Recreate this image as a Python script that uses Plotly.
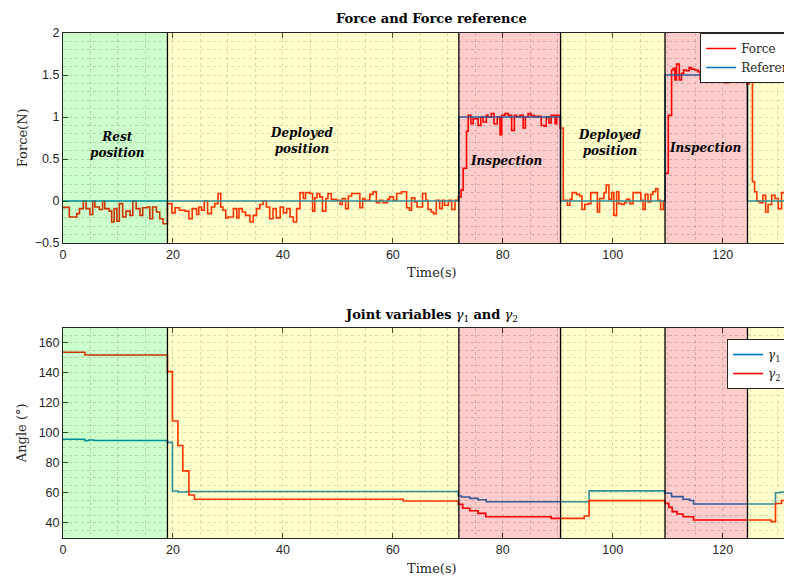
import plotly.graph_objects as go

# ---------------- data ----------------
t_force = [0, 1.15, 2.5, 3.0, 3.7, 4.2, 4.9, 5.4, 5.8, 6.6, 7.2, 7.6, 8.4, 8.85, 9.3, 9.8, 10.25, 10.85, 11.45, 12.2,
           12.7, 13.3, 14.0, 14.5, 15.3, 15.8, 16.3, 17.0, 17.6, 18.2,
           19.0, 19.8, 20.4, 21.2, 22.2, 22.9, 23.5, 24.3, 24.7, 25.2, 25.7, 26.3, 27.0, 27.6, 28.2, 28.7, 29.1, 29.6,
           30.1, 31.0, 31.6, 32.0, 32.6, 33.2, 34.0, 34.6, 35.2, 35.8, 36.4, 37.0, 37.6, 38.2, 38.8, 39.5, 40.1, 40.7,
           41.3, 41.9, 42.5, 43.1, 43.7, 44.1,
           44.9, 45.4, 45.8, 46.2, 46.7, 47.2, 47.8, 48.2, 48.8, 49.7, 50.4, 50.8, 51.4, 51.9, 52.5, 54.0, 54.5, 54.9,
           55.8, 56.4, 57.0, 57.6, 58.2, 59.0, 59.4, 60.1, 60.7, 61.6, 62.5, 63.0, 63.4, 64.0, 64.4, 65.4, 66.0, 66.4,
           67.0, 67.4, 67.9, 68.5, 69.0, 69.4, 70.1, 70.7, 71.3,
           71.9, 72.4, 72.8, 73.4, 73.7, 74.2, 74.6, 75.5, 76.0, 76.4, 77.0, 77.3, 77.9, 78.4, 79.0, 79.5, 79.8, 80.4,
           81.0, 81.6, 82.1, 82.5, 83.1, 83.7, 84.1, 84.6, 85.1, 85.7, 86.1, 87.0, 87.5, 87.9, 88.4, 88.8, 89.5, 89.8,
           90.4,
           91.0, 91.75, 92.2, 92.6, 93.4, 94.0, 94.4, 94.9, 95.5, 96.0, 96.6, 97.2, 97.6, 98.4, 98.8, 99.3, 99.8, 100.2,
           100.7, 101.1, 101.6, 102.1, 102.5, 103.1, 103.7, 104.3, 105.1, 105.5, 105.9, 106.4, 106.9, 107.3, 107.8,
           108.2, 108.7,
           109.2, 109.5, 110.1, 110.7, 111.0, 111.3, 111.6, 112.1, 112.5, 112.9, 113.4, 113.9, 114.3, 114.9, 115.5,
           115.9, 116.3, 116.7, 117.2, 117.6, 118.25, 118.85, 119.3, 119.8, 120.4, 121.0, 121.6, 122.2, 122.6, 123.1,
           123.6, 124.0, 124.4, 124.8, 125.4, 125.8, 126.2, 126.7, 127.3, 127.8, 128.25, 128.9, 129.5, 130.1, 130.7,
           131.5, 132.3, 134.0]
force = [-0.075, -0.19, -0.15, -0.09, 0.0, -0.09, -0.16, 0.0, -0.07, -0.10, 0.0, -0.09, -0.12, -0.25, -0.09, -0.24,
         -0.03, -0.19, -0.12, -0.17, 0.0, -0.09, -0.17, -0.08, -0.07, -0.21, -0.07, -0.13, -0.21, -0.27,
         -0.03, -0.14, -0.08, -0.11, -0.12, -0.21, -0.09, -0.16, -0.07, -0.11, 0.0, -0.15, -0.07, -0.03, 0.09, -0.07,
         -0.11, -0.2, -0.19, -0.09, -0.2, -0.09, -0.13, -0.17, -0.25, -0.17, -0.09, -0.04, 0.0, -0.07, -0.21, -0.09,
         -0.2, -0.07, -0.14, -0.09, -0.19, -0.25, -0.09, 0.1, 0.03, 0.1,
         0.09, -0.12, 0.04, 0.09, 0.05, -0.12, 0.03, 0.09, 0.02, 0.01, -0.04, 0.03, -0.09, 0.06, 0.09, -0.08, 0.03,
         0.01, 0.08, 0.11, -0.02, 0.01, -0.02, 0.02, 0.05, 0.01, 0.09, 0.11, -0.08, -0.11, 0.04, -0.01, -0.07, 0.09,
         0.01, -0.1, -0.13, -0.15, 0.01, -0.09, 0.01, -0.05, 0.01, -0.1, 0.01,
         0.05, 0.13, 0.39, 0.83, 1.02, 0.92, 0.98, 0.9, 1.0, 0.94, 1.02, 1.0, 1.04, 0.92, 1.0, 0.79, 1.02, 1.04,
         1.02, 0.84, 1.02, 1.0, 1.02, 0.87, 1.0, 1.04, 1.02, 1.0, 1.01, 0.9, 0.89, 1.0, 0.93, 1.02, 0.92, 1.02,
         0.87,
         0.01, -0.05, 0.02, 0.1, 0.08, 0.06, -0.1, -0.04, -0.03, 0.1, 0.1, -0.13, 0.03, 0.1, 0.19, 0.02, 0.1, -0.17,
         0.11, -0.03, -0.04, -0.02, 0.02, -0.03, 0.1, 0.1, 0.01, -0.1, 0.08, -0.01, 0.08, 0.11, 0.15, 0.01, -0.1,
         0.0, 0.33, 1.02, 1.56, 1.58, 1.44, 1.63, 1.44, 1.52, 1.56, 1.55, 1.59, 1.57, 1.56, 1.54, 1.45, 1.53, 1.44,
         1.58, 1.47, 1.46, 1.45, 1.47, 1.43, 1.41, 1.43, 1.42, 1.5, 1.53, 1.52, 1.47, 1.44, 1.39, 1.52, 0.23, 0.11,
         0.0, -0.02, 0.07, -0.13, -0.04, 0.07, 0.03, -0.09, 0.1, -0.02, -0.05, -0.05]

t_ref = [0, 72, 90.5, 109.5, 124.5, 134]
reference = [0, 1, 0, 1.5, 0, 0]

t_g1 = [0, 4.0, 4.6, 5.6, 19.0, 19.9, 20.9, 22.5, 71.9, 72.5, 74.0, 75.5, 77.0, 95.7, 109.5, 110.7, 112.8, 114.0,
        114.7, 129.6, 130.5, 134.0]
gamma1 = [95.8, 94.8, 95.3, 95.0, 93.7, 61.3, 60.7, 61.0, 58.0, 57.3, 56.4, 55.5, 54.2, 61.4, 59.8, 57.6, 55.8,
          55.0, 52.7, 60.2, 60.7, 60.7]

t_g2 = [0, 4.0, 19.0, 19.9, 20.9, 21.8, 22.9, 23.9, 61.9, 71.9, 72.7, 74.0, 75.5, 76.9, 88.8, 94.8, 95.7, 109.5,
        110.2, 110.8, 111.7, 112.8, 114.7, 128.8, 129.6, 130.7, 134.0]
gamma2 = [153.8, 152.0, 140.9, 108.0, 91.6, 74.7, 58.7, 55.8, 54.7, 52.4, 49.8, 48.2, 46.4, 44.2, 43.1, 44.7, 54.9,
          53.1, 50.4, 47.6, 46.0, 44.2, 42.0, 40.9, 53.0, 55.0, 55.0]

phase_bounds = [0, 19, 72, 90.5, 109.5, 124.5, 134]
phase_colors = ["rgba(0,255,0,0.2)", "rgba(255,255,0,0.2)", "rgba(255,0,0,0.2)",
                "rgba(255,255,0,0.2)", "rgba(255,0,0,0.2)", "rgba(255,255,0,0.2)"]
phase_labels = ["Rest<br>position", "Deployed<br>position", "Inspection", "Deployed<br>position", "Inspection"]
label_x = [10, 43.5, 80.5, 99.5, 116.7]
label_y = [0.67, 0.71, 0.48, 0.69, 0.63]

# ---------------- figure ----------------
SERIF = "DejaVu Serif"
SANS = "Liberation Sans"
DARK = "#262626"
GRID = "rgba(110,110,110,0.3)"

fig = go.Figure()
fig.add_trace(go.Scatter(x=t_force, y=force, mode="lines", line=dict(color="#ff0000", width=1.6, shape="hv"),
                         name="Force", xaxis="x", yaxis="y", legend="legend"))
fig.add_trace(go.Scatter(x=t_ref, y=reference, mode="lines", line=dict(color="#0072bd", width=1.6, shape="hv"),
                         name="Reference", xaxis="x", yaxis="y", legend="legend"))
fig.add_trace(go.Scatter(x=t_g1, y=gamma1, mode="lines", line=dict(color="#0072bd", width=1.6, shape="hv"),
                         name="<i>γ</i><sub>1</sub>", xaxis="x2", yaxis="y2", legend="legend2"))
fig.add_trace(go.Scatter(x=t_g2, y=gamma2, mode="lines", line=dict(color="#ff0000", width=1.6, shape="hv"),
                         name="<i>γ</i><sub>2</sub>", xaxis="x2", yaxis="y2", legend="legend2"))

shapes = []
for xr, yr in (("x", "y domain"), ("x2", "y2 domain")):
    for i in range(len(phase_bounds) - 1):
        shapes.append(dict(type="rect", xref=xr, yref=yr, x0=phase_bounds[i], x1=phase_bounds[i + 1],
                           y0=0, y1=1, fillcolor=phase_colors[i], line=dict(width=0), layer="above"))
    for b in phase_bounds[1:-1]:
        shapes.append(dict(type="line", xref=xr, yref=yr, x0=b, x1=b, y0=0, y1=1,
                           line=dict(color="black", width=1.3), layer="above"))

annotations = []
for lx, ly, txt in zip(label_x, label_y, phase_labels):
    annotations.append(dict(x=lx, y=ly, xref="x", yref="y", text="<b><i>" + txt + "</i></b>", showarrow=False,
                            font=dict(family=SERIF, size=12, color="black"), align="center"))

annotations += [
    dict(x=0.505, y=1.028, xref="paper", yref="paper", text="<b>Force and Force reference</b>", showarrow=False,
         font=dict(family=SERIF, size=13, color="black"), yanchor="middle"),
    dict(x=0.505, y=0.44, xref="paper", yref="paper",
         text="<b>Joint variables</b> <i>γ</i><sub>1</sub> <b>and</b> <i>γ</i><sub>2</sub>", showarrow=False,
         font=dict(family=SERIF, size=13, color="black"), yanchor="middle"),
    dict(x=0.506, y=0.525, xref="paper", yref="paper", text="Time(s)", showarrow=False,
         font=dict(family=SERIF, size=13, color=DARK), yanchor="middle"),
    dict(x=0.506, y=-0.061, xref="paper", yref="paper", text="Time(s)", showarrow=False,
         font=dict(family=SERIF, size=13, color=DARK), yanchor="middle"),
    dict(x=-0.056, y=0.792, xref="paper", yref="paper", text="Force(N)", showarrow=False, textangle=-90,
         font=dict(family=SERIF, size=13, color=DARK), xanchor="center", yanchor="middle"),
    dict(x=-0.056, y=0.208, xref="paper", yref="paper", text="Angle (°)", showarrow=False, textangle=-90,
         font=dict(family=SERIF, size=13, color=DARK), xanchor="center", yanchor="middle"),
]

xcommon = dict(range=[0, 132.6], dtick=20, tick0=0, ticks="inside", ticklen=5, tickwidth=1, tickcolor=DARK,
               showline=True, linecolor=DARK, linewidth=1, mirror="ticks", showgrid=True,
               gridcolor=GRID, griddash="dot", gridwidth=1, zeroline=False, automargin=False,
               tickfont=dict(family=SANS, size=12.5, color=DARK),
               minor=dict(dtick=5, showgrid=True, gridcolor=GRID, griddash="dot", ticks=""))

ycommon = dict(ticks="inside", ticklen=5, tickcolor=DARK, showline=True, linecolor=DARK, linewidth=1,
               mirror=False, showgrid=True, gridcolor=GRID, griddash="dot", zeroline=False, automargin=False,
               tickfont=dict(family=SANS, size=12.5, color=DARK))

# The page body adds an 8 px offset; the figure is sized so the plot areas land where the reference has them.
fig.update_layout(
    width=784, height=570,
    margin=dict(l=55, r=0, t=25, b=40, autoexpand=False),
    paper_bgcolor="white", plot_bgcolor="white",
    xaxis=dict(xcommon, anchor="y"),
    xaxis2=dict(xcommon, anchor="y2"),
    yaxis=dict(ycommon, domain=[0.584, 1], range=[-0.5, 2], dtick=0.5, anchor="x",
               minor=dict(dtick=0.1, showgrid=True, gridcolor=GRID, griddash="dot", ticks="")),
    yaxis2=dict(ycommon, domain=[0, 0.416], range=[30, 170], dtick=20, tick0=0, anchor="x2",
                minor=dict(dtick=5, showgrid=True, gridcolor=GRID, griddash="dot", ticks="")),
    legend=dict(x=0.874, y=1, xanchor="left", yanchor="top", bgcolor="white", bordercolor=DARK, borderwidth=1,
                font=dict(family=SERIF, size=12, color=DARK), tracegroupgap=0, itemwidth=30),
    legend2=dict(x=0.911, y=0.394, xanchor="left", yanchor="top", bgcolor="white", bordercolor=DARK,
                 borderwidth=1, font=dict(family=SERIF, size=12, color=DARK), tracegroupgap=0, itemwidth=30),
    shapes=shapes,
    annotations=annotations,
    showlegend=True,
)

fig.write_html("out.html")
